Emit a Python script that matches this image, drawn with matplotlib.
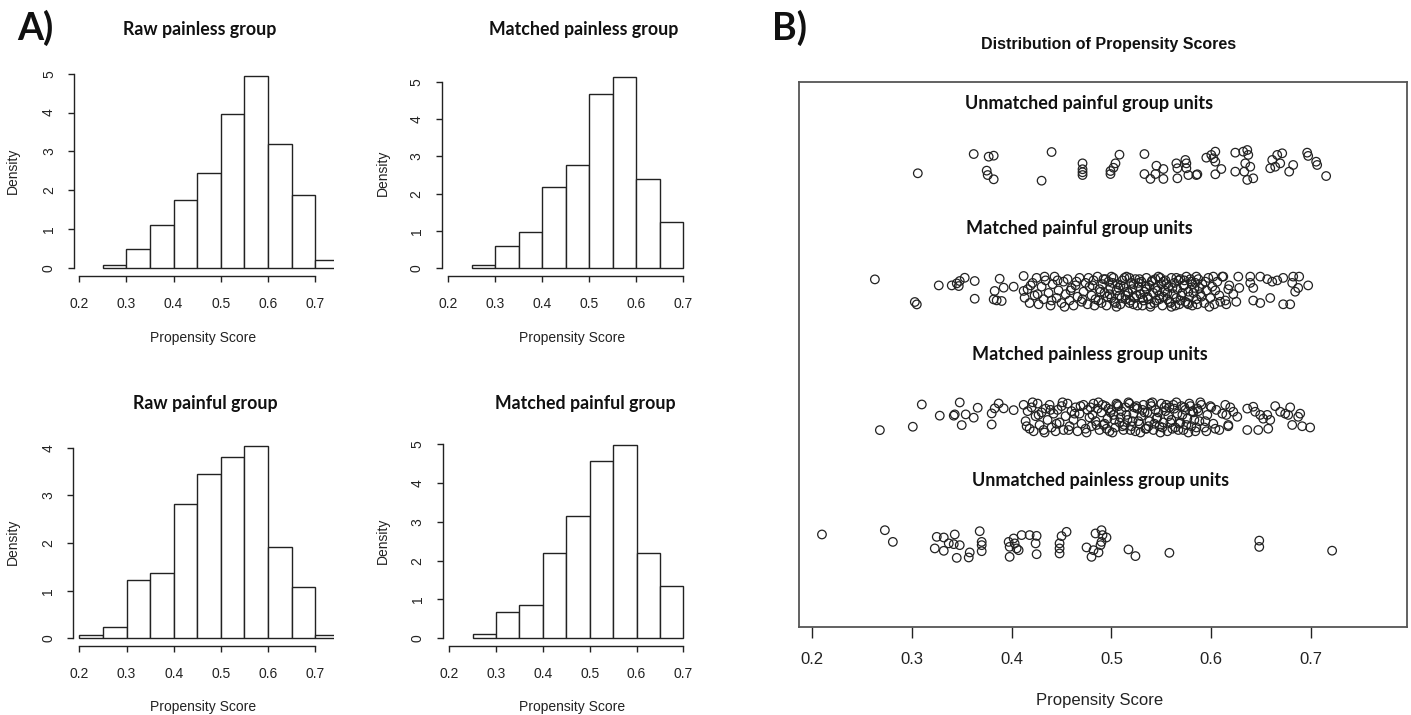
import numpy as np
import matplotlib.pyplot as plt

# ====================================================
# DATA
# ====================================================

# histogram densities (bin width 0.05), left edge of the first bin
raw_painless_start = 0.25
raw_painless_dens = [0.07, 0.50, 1.11, 1.75, 2.44, 3.97, 4.95, 3.20, 1.88, 0.21]

matched_painless_start = 0.25
matched_painless_dens = [0.09, 0.58, 0.96, 2.19, 2.77, 4.67, 5.13, 2.38, 1.24]

raw_painful_start = 0.20
raw_painful_dens = [0.08, 0.23, 1.22, 1.38, 2.82, 3.44, 3.81, 4.04, 1.91, 1.07, 0.08]

matched_painful_start = 0.25
matched_painful_dens = [0.10, 0.67, 0.87, 2.19, 3.15, 4.58, 4.97, 2.19, 1.35]

hist_xticks = [0.2, 0.3, 0.4, 0.5, 0.6, 0.7]

# jitter plot: propensity score and vertical jitter for every unit
row_labels = ["Unmatched painful group units", "Matched painful group units",
              "Matched painless group units", "Unmatched painless group units"]
row_pos = [4, 3, 2, 1]

unm_painful_x = [0.306, 0.362, 0.377, 0.382, 0.375, 0.376, 0.382, 0.440, 0.430, 0.471,
                 0.471, 0.471, 0.471, 0.508, 0.504, 0.502, 0.499, 0.499, 0.533, 0.545,
                 0.533, 0.539, 0.544, 0.552, 0.552, 0.565, 0.566, 0.574, 0.575, 0.575,
                 0.566, 0.577, 0.585, 0.586, 0.595, 0.600, 0.604, 0.602, 0.604, 0.610,
                 0.604, 0.624, 0.632, 0.636, 0.637, 0.634, 0.639, 0.633, 0.636, 0.642,
                 0.624, 0.661, 0.666, 0.671, 0.669, 0.659, 0.664, 0.682, 0.678, 0.696,
                 0.697, 0.705, 0.706, 0.715]
unm_painful_dy = [-0.058, 0.095, 0.074, 0.082, -0.037, -0.072, -0.106, 0.111, -0.117, 0.021,
                  -0.026, -0.050, -0.072, 0.090, 0.021, -0.014, -0.040, -0.064, 0.095, 0.002,
                  -0.064, -0.103, -0.064, -0.024, -0.103, 0.021, -0.018, 0.048, 0.021, -0.018,
                  -0.098, -0.072, -0.072, -0.066, 0.066, 0.088, 0.114, 0.061, 0.034, -0.024,
                  -0.066, 0.106, 0.114, 0.127, 0.088, 0.021, -0.006, -0.045, -0.111, -0.098,
                  -0.045, 0.048, 0.088, 0.101, 0.021, -0.018, -0.006, 0.008, -0.045, 0.106,
                  0.080, 0.034, 0.008, -0.080]

m_painful_x = [0.263, 0.303, 0.305, 0.327, 0.340, 0.345, 0.348, 0.353, 0.347, 0.363,
               0.363, 0.383, 0.388, 0.392, 0.402, 0.382, 0.385, 0.390, 0.412, 0.412,
               0.413,
               0.416, 0.418, 0.421, 0.423, 0.425, 0.427, 0.430, 0.432, 0.434, 0.437,
               0.439, 0.441, 0.443, 0.445, 0.447, 0.450, 0.452, 0.454, 0.456, 0.458,
               0.460, 0.462, 0.464, 0.466, 0.468, 0.470, 0.472, 0.474, 0.476, 0.478,
               0.480, 0.482, 0.484, 0.486, 0.488, 0.490, 0.491, 0.493, 0.495, 0.497,
               0.499, 0.500, 0.502, 0.503, 0.505, 0.506, 0.508, 0.509, 0.511, 0.512,
               0.514, 0.515, 0.517, 0.518, 0.520, 0.521, 0.523, 0.524, 0.526, 0.527,
               0.529, 0.530, 0.532, 0.533, 0.535, 0.536, 0.538, 0.539, 0.541, 0.542,
               0.544, 0.545, 0.547, 0.548, 0.550, 0.551, 0.553, 0.554, 0.556, 0.557,
               0.559, 0.560, 0.562, 0.563, 0.565, 0.566, 0.568, 0.569, 0.571, 0.572,
               0.574, 0.575, 0.577, 0.578, 0.580, 0.581, 0.583, 0.585, 0.587, 0.589,
               0.591, 0.593, 0.595, 0.597, 0.599, 0.601, 0.603, 0.606, 0.608, 0.611,
               0.614, 0.617,
               0.481, 0.487, 0.494, 0.498, 0.501, 0.504, 0.507, 0.510, 0.513, 0.516,
               0.519, 0.522, 0.525, 0.528, 0.531, 0.534, 0.537, 0.540, 0.543, 0.546,
               0.549, 0.552, 0.555, 0.558, 0.561, 0.564, 0.567, 0.570, 0.573, 0.576,
               0.579, 0.582, 0.584, 0.586, 0.588,
               0.419, 0.426, 0.433, 0.440, 0.446, 0.453, 0.459, 0.465, 0.471, 0.477,
               0.483, 0.489, 0.492, 0.496, 0.500, 0.505, 0.509, 0.514, 0.518, 0.522,
               0.527, 0.531, 0.535, 0.539, 0.544, 0.548, 0.552, 0.556, 0.560, 0.565,
               0.569, 0.573, 0.577, 0.581, 0.585, 0.590, 0.594, 0.598, 0.604, 0.609,
               0.602, 0.612, 0.627, 0.639, 0.649, 0.656, 0.661, 0.666, 0.672, 0.682,
               0.688, 0.639, 0.642, 0.659, 0.642, 0.649, 0.672, 0.679, 0.684, 0.687,
               0.697, 0.681, 0.618, 0.622, 0.625, 0.615, 0.628]
m_painful_dy = [0.098, -0.082, -0.101, 0.050, 0.050, 0.066, 0.085, 0.111, 0.045, 0.085,
                -0.056, 0.006, 0.103, 0.032, 0.040, -0.061, -0.069, -0.074, 0.125, 0.006,
                -0.048,
                0.02, -0.09, 0.07, -0.03, 0.11, -0.10, 0.04, -0.06, 0.09, -0.01,
                -0.11, 0.06, 0.12, -0.05, 0.01, -0.09, 0.08, -0.02, 0.10, -0.07,
                0.03, -0.11, 0.05, -0.04, 0.11, -0.08, 0.00, 0.07, -0.10, 0.04,
                -0.03, 0.09, -0.06, 0.12, 0.02, -0.09, 0.06, -0.01, -0.11, 0.08,
                0.03, -0.05, 0.11, -0.08, 0.01, 0.06, -0.03, -0.10, 0.09, 0.04,
                -0.06, 0.12, -0.01, -0.09, 0.07, 0.02, -0.05, 0.10, -0.11, 0.04,
                -0.02, 0.08, -0.07, 0.00, 0.11, -0.04, 0.05, -0.10, 0.09, -0.01,
                0.03, -0.07, 0.12, -0.03, 0.06, -0.11, 0.01, 0.09, -0.06, 0.04,
                -0.09, 0.11, -0.02, 0.07, -0.05, 0.02, -0.10, 0.10, -0.01, 0.05,
                -0.08, 0.12, 0.00, -0.04, 0.08, -0.11, 0.03, -0.06, 0.10, -0.02,
                0.06, -0.09, 0.01, 0.11, -0.05, 0.04, -0.10, 0.08, -0.03, 0.12,
                -0.07, 0.02,
                0.05, -0.07, 0.10, -0.02, 0.07, -0.09, 0.03, -0.05, 0.11, 0.00,
                -0.07, 0.06, -0.03, 0.10, -0.11, 0.04, -0.06, 0.08, -0.09, 0.01,
                0.11, -0.04, 0.06, -0.08, 0.03, -0.11, 0.09, -0.03, 0.05, -0.09,
                0.10, -0.01, 0.07, -0.10, 0.03,
                0.05, -0.02, 0.12, -0.07, 0.09, -0.12, 0.01, 0.08, -0.06, 0.11,
                -0.11, 0.00, 0.10, -0.04, 0.12, -0.12, 0.05, -0.03, 0.11, -0.10,
                0.07, -0.05, 0.02, -0.12, 0.10, -0.06, 0.08, -0.01, -0.12, 0.11,
                -0.07, 0.09, -0.10, 0.06, 0.12, -0.04, 0.08, -0.12, 0.01, -0.08,
                0.12, 0.12, 0.12, 0.12, 0.12, 0.10, 0.08, 0.09, 0.11, 0.12,
                0.12, 0.07, 0.03, -0.05, -0.07, -0.09, -0.10, -0.10, 0.00, 0.03,
                0.05, 0.07, 0.05, -0.02, -0.08, -0.10, 0.03]

m_painless_x = [0.268, 0.301, 0.310, 0.328, 0.342, 0.343, 0.348, 0.350, 0.354, 0.362,
                0.366, 0.380, 0.380, 0.383, 0.387, 0.392, 0.402,
                0.412, 0.414, 0.416, 0.418, 0.420, 0.422, 0.424, 0.426, 0.428, 0.430,
                0.432, 0.434, 0.436, 0.438, 0.440, 0.442, 0.444, 0.446, 0.448, 0.450,
                0.452, 0.454, 0.456, 0.458, 0.460, 0.462, 0.464, 0.466, 0.468, 0.470,
                0.472, 0.474, 0.476, 0.478, 0.480, 0.482, 0.484, 0.486, 0.488, 0.490,
                0.492, 0.494, 0.496, 0.498, 0.500, 0.502, 0.504, 0.506, 0.508, 0.510,
                0.512, 0.514, 0.516, 0.518, 0.520, 0.522, 0.524, 0.526, 0.528, 0.530,
                0.532, 0.534, 0.536, 0.538, 0.540, 0.542, 0.544, 0.546, 0.548, 0.550,
                0.552, 0.554, 0.556, 0.558, 0.560, 0.562, 0.564, 0.566, 0.568, 0.570,
                0.572, 0.574, 0.576, 0.578, 0.580, 0.582, 0.584, 0.586, 0.588, 0.590,
                0.593, 0.596, 0.599, 0.602, 0.605, 0.608, 0.611, 0.614, 0.617,
                0.479, 0.485, 0.491, 0.495, 0.499, 0.503, 0.507, 0.511, 0.515, 0.519,
                0.523, 0.527, 0.531, 0.535, 0.539, 0.543, 0.547, 0.551, 0.555, 0.559,
                0.563, 0.567, 0.571, 0.575, 0.579, 0.583, 0.587,
                0.415, 0.421, 0.427, 0.433, 0.439, 0.445, 0.451, 0.457, 0.463, 0.469,
                0.475, 0.481, 0.487, 0.493, 0.497, 0.501, 0.505, 0.509, 0.513, 0.517,
                0.521, 0.525, 0.529, 0.533, 0.537, 0.541, 0.545, 0.549, 0.553, 0.557,
                0.561, 0.565, 0.569, 0.573, 0.577, 0.581, 0.585, 0.589, 0.594, 0.600,
                0.636, 0.642, 0.644, 0.649, 0.652, 0.656, 0.659, 0.636, 0.647, 0.657,
                0.664, 0.669, 0.674, 0.679, 0.677, 0.681, 0.691, 0.699, 0.687, 0.689,
                0.617, 0.626, 0.615, 0.622, 0.619, 0.595, 0.604]
m_painless_dy = [-0.101, -0.074, 0.103, 0.014, 0.014, 0.024, 0.119, -0.061, 0.024, -0.002,
                 0.077, 0.032, -0.056, 0.072, 0.111, 0.072, 0.058,
                 0.10, -0.03, 0.05, -0.09, 0.08, -0.11, 0.01, 0.11, -0.06, 0.04,
                 -0.10, 0.07, -0.02, 0.10, -0.08, 0.03, -0.11, 0.06, -0.04, 0.09,
                 -0.10, 0.01, 0.11, -0.07, 0.05, -0.02, 0.08, -0.11, 0.03, -0.05,
                 0.10, -0.09, 0.06, 0.00, -0.07, 0.11, -0.03, 0.07, -0.10, 0.04,
                 -0.06, 0.09, -0.01, -0.11, 0.06, 0.02, -0.08, 0.10, -0.04, 0.05,
                 -0.10, 0.08, -0.02, 0.11, -0.07, 0.03, -0.11, 0.07, -0.05, 0.01,
                 0.10, -0.09, 0.04, -0.03, 0.09, -0.10, 0.06, 0.00, -0.07, 0.11,
                 -0.04, 0.05, -0.11, 0.08, -0.02, 0.10, -0.08, 0.03, -0.05, 0.09,
                 -0.10, 0.06, -0.01, 0.11, -0.07, 0.04, -0.11, 0.07, -0.03, 0.10,
                 -0.08, 0.02, 0.09, -0.05, 0.06, -0.10, 0.03, 0.10, -0.06,
                 0.08, -0.06, 0.10, -0.09, 0.04, -0.02, 0.09, -0.07, 0.02, -0.10,
                 0.08, -0.03, 0.06, -0.09, 0.11, -0.05, 0.04, -0.08, 0.10, -0.04,
                 0.07, -0.10, 0.02, -0.06, 0.09, -0.02, 0.05,
                 -0.07, 0.12, 0.02, -0.12, 0.06, -0.05, 0.12, -0.10, 0.03, 0.09,
                 -0.12, 0.02, 0.12, -0.05, 0.07, -0.12, 0.11, 0.00, -0.06, 0.12,
                 -0.03, 0.09, -0.12, 0.04, -0.07, 0.12, -0.01, -0.12, 0.08, 0.01,
                 -0.09, 0.12, -0.04, 0.08, -0.12, 0.05, -0.08, 0.12, -0.03, 0.08,
                 0.07, 0.085, 0.045, 0.02, -0.01, 0.02, -0.02, -0.10, -0.10, -0.09,
                 0.09, 0.045, 0.03, 0.08, 0.02, -0.06, -0.07, -0.08, 0.005, 0.03,
                 -0.07, 0.005, 0.02, 0.045, 0.08, -0.11, -0.09]

unm_painless_x = [0.210, 0.273, 0.281, 0.325, 0.332, 0.343, 0.323, 0.332, 0.337, 0.342,
                  0.348, 0.345, 0.357, 0.358, 0.368, 0.370, 0.370, 0.370, 0.397, 0.398,
                  0.398, 0.402, 0.403, 0.405, 0.407, 0.410, 0.418, 0.425, 0.424, 0.425,
                  0.455, 0.450, 0.448, 0.448, 0.448, 0.484, 0.490, 0.491, 0.495, 0.490,
                  0.489, 0.475, 0.482, 0.487, 0.480, 0.517, 0.524, 0.558, 0.648, 0.648,
                  0.721]
unm_painless_dy = [0.069, 0.103, 0.010, 0.050, 0.045, 0.069, -0.042, -0.061, -0.002, -0.008,
                   -0.016, -0.117, -0.114, -0.074, 0.095, 0.010, -0.016, -0.064, 0.010, -0.029,
                   -0.109, 0.037, -0.002, -0.042, -0.056, 0.064, 0.064, 0.058, -0.002, -0.088,
                   0.090, 0.056, -0.002, -0.042, -0.082, 0.077, 0.103, 0.064, 0.045, 0.010,
                   -0.016, -0.034, -0.056, -0.074, -0.109, -0.050, -0.103, -0.077, 0.020, -0.030,
                   -0.060]

# ====================================================
# FIGURE
# ====================================================

W, H = 1411, 715
fig = plt.figure(figsize=(W / 100, H / 100), dpi=100)

AX_FONT = "Liberation Sans"
LBL_FONT = "Lato"
INK = "#222222"


def px_axes(l, t, r, b):
    return fig.add_axes([l / W, 1 - b / H, (r - l) / W, (b - t) / H])


def px_text(x, y, s, **kw):
    fig.text(x / W, 1 - y / H, s, **kw)


def hist_panel(box, start, dens, xlim, ylim, ymax_tick, title, title_xy, ylab_xy, xlab_xy):
    ax = px_axes(*box)
    edges = [start + 0.05 * i for i in range(len(dens))]
    ax.bar(edges, dens, width=0.05, align="edge", facecolor="white",
           edgecolor=INK, linewidth=1.0)
    ax.set_xlim(*xlim)
    ax.set_ylim(*ylim)
    for s in ["top", "right"]:
        ax.spines[s].set_visible(False)
    ax.spines["left"].set_bounds(0, ymax_tick)
    ax.spines["bottom"].set_bounds(0.2, 0.7)
    for s in ["left", "bottom"]:
        ax.spines[s].set_color(INK)
        ax.spines[s].set_linewidth(1.0)
    ax.set_xticks(hist_xticks)
    ax.set_xticklabels([f"{v:.1f}" for v in hist_xticks], fontfamily=AX_FONT)
    yt = list(range(ymax_tick + 1))
    ax.set_yticks(yt)
    ax.set_yticklabels([str(v) for v in yt], rotation=90, va="center", fontfamily=AX_FONT)
    ax.tick_params(axis="x", direction="out", length=4, width=1.0, pad=11,
                   labelsize=10, colors=INK)
    ax.tick_params(axis="y", direction="out", length=4, width=1.0, pad=9,
                   labelsize=10, colors=INK)
    px_text(*title_xy, title, ha="center", va="center", fontsize=12.8,
            fontweight="bold", fontfamily=LBL_FONT, color="#111")
    px_text(*ylab_xy, "Density", ha="center", va="center", rotation=90,
            fontsize=10, fontfamily=AX_FONT, color=INK)
    px_text(*xlab_xy, "Propensity Score", ha="center", va="center",
            fontsize=10, fontfamily=AX_FONT, color=INK)
    return ax


hist_panel((74, 68, 334, 275.7), raw_painless_start, raw_painless_dens,
           (0.189, 0.74), (-0.198, 5.148), 5, "Raw painless group",
           (200, 30), (13, 171), (203, 338))
hist_panel((441.7, 69.5, 692.7, 275.7), matched_painless_start, matched_painless_dens,
           (0.186, 0.72), (-0.205, 5.335), 5, "Matched painless group",
           (584, 30), (383, 173), (572, 338))
hist_panel((73.3, 438.2, 334, 646), raw_painful_start, raw_painful_dens,
           (0.187, 0.74), (-0.16, 4.2), 4, "Raw painful group",
           (205, 403), (13, 542), (203, 707))
hist_panel((442.7, 437.7, 692.7, 646), matched_painful_start, matched_painful_dens,
           (0.186, 0.72), (-0.199, 5.17), 5, "Matched painful group",
           (585, 403), (383, 541), (572, 707))

px_text(35, 28, "A)", ha="center", va="center", fontsize=27, fontweight="bold",
        fontfamily=LBL_FONT, color="#111")
px_text(790, 28, "B)", ha="center", va="center", fontsize=27, fontweight="bold",
        fontfamily=LBL_FONT, color="#111")

# ====================================================
# JITTER PLOT
# ====================================================

axb = px_axes(799, 82, 1407, 627)
groups = [(unm_painful_x, unm_painful_dy), (m_painful_x, m_painful_dy),
          (m_painless_x, m_painless_dy), (unm_painless_x, unm_painless_dy)]
for (gx, gdy), r in zip(groups, row_pos):
    gy = [r + d for d in gdy]
    axb.scatter(gx, gy, s=38, facecolors="none", edgecolors=INK, linewidths=0.9)

label_x = [0.353, 0.354, 0.360, 0.360]
for lab, r, lx in zip(row_labels, row_pos, label_x):
    axb.text(lx, r + 0.5, lab, ha="left", va="center", fontsize=13,
             fontweight="bold", fontfamily=LBL_FONT, color="#111")

axb.set_xlim(0.187, 0.796)
axb.set_ylim(0.333, 4.668)
axb.set_yticks([])
axb.set_xticks(hist_xticks)
axb.set_xticklabels([f"{v:.1f}" for v in hist_xticks], fontfamily=AX_FONT)
axb.tick_params(axis="x", direction="out", length=8, width=1.0, pad=10,
                labelsize=12, colors=INK)
for s in axb.spines.values():
    s.set_color("#555555")
    s.set_linewidth(1.3)

px_text(1109, 44, "Distribution of Propensity Scores", ha="center", va="center",
        fontsize=11.5, fontweight="bold", fontfamily=AX_FONT, color="#111")
px_text(1100, 700, "Propensity Score", ha="center", va="center",
        fontsize=12, fontfamily=AX_FONT, color=INK)

fig.savefig("out.png", dpi=100, facecolor="white")
